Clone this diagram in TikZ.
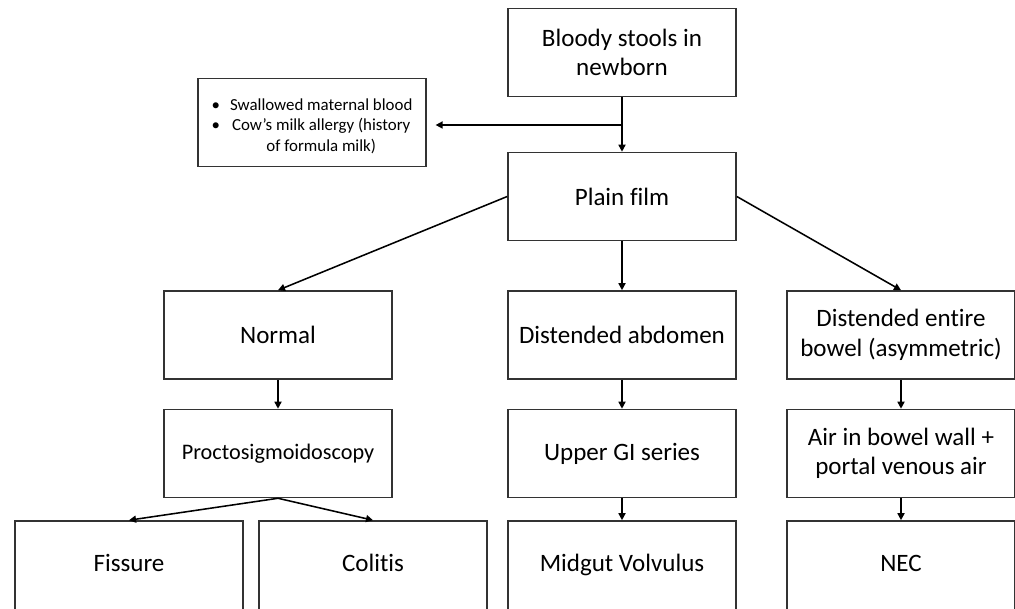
\documentclass[tikz,border=0pt]{standalone}
\usepackage{fontspec}
\setmainfont{Carlito}[Ligatures=NoCommon]
\usepackage{tikz}
\usetikzlibrary{arrows.meta}

\tikzset{
    box/.style={draw=black!80, line width=1.1pt, minimum width=5.7cm, minimum height=2.2cm,
        align=center, font=\fontsize{17.8}{21}\selectfont, inner sep=2pt},
    endbox/.style={box, minimum height=2.3cm, text height=1.6ex, text depth=0.3ex},
    link/.style={-{Triangle[length=5pt,width=5pt]}, line width=1.1pt}
}

\begin{document}
\begin{tikzpicture}[x=0.025cm, y=-0.025cm]
        \useasboundingbox (0,0) rectangle (1015,609);
        \clip (0,0) rectangle (1015,609);

        % Start and first test
        \node[box] (blood) at (622,52.5) {Bloody stools in\\newborn};
        \node[box] (plain) at (622,196.5) {Plain film};
        \node[box, font=\fontsize{12}{14.5}\selectfont] (other) at (312,122.5)
            {\begin{tabular}{@{}c@{\hspace{0.6em}}c@{}}
                \rule{0pt}{16pt}\textbullet & Swallowed maternal blood\\
                \textbullet & Cow’s milk allergy (history\\
                            & of formula milk)
             \end{tabular}};
        \coordinate (split) at (622,125);

        % Plain film findings
        \node[box] (normal) at (278,335) {Normal};
        \node[box] (abdomen) at (622,335) {Distended abdomen};
        \node[box] (bowel) at (901,335) {Distended entire\\bowel (asymmetric)};

        % Next studies
        \node[box, font=\fontsize{15.8}{19}\selectfont] (procto) at (278,453.5) {Proctosigmoidoscopy};
        \node[box] (upper) at (622,453.5) {Upper GI series};
        \node[box] (air) at (901,453.5) {Air in bowel wall +\\portal venous air};

        % Diagnoses
        \node[endbox] (fissure) at (129,567) {Fissure};
        \node[endbox] (colitis) at (373,567) {Colitis};
        \node[endbox] (midgut) at (622,567) {Midgut Volvulus};
        \node[endbox] (nec) at (901,567) {NEC};

        % Connections
        \draw[link] (blood) -- (plain);
        \draw[link, shorten >=0.22cm] (split) -- (split -| other.east);
        \draw[link] (plain.west) -- (normal.north);
        \draw[link] (plain) -- (abdomen);
        \draw[link] (plain.east) -- (bowel.north);
        \draw[link] (normal) -- (procto);
        \draw[link] (abdomen) -- (upper);
        \draw[link] (bowel) -- (air);
        \draw[link] (procto.south) -- (fissure.north);
        \draw[link] (procto.south) -- (colitis.north);
        \draw[link] (upper) -- (midgut);
        \draw[link] (air) -- (nec);
    \end{tikzpicture}
\end{document}
